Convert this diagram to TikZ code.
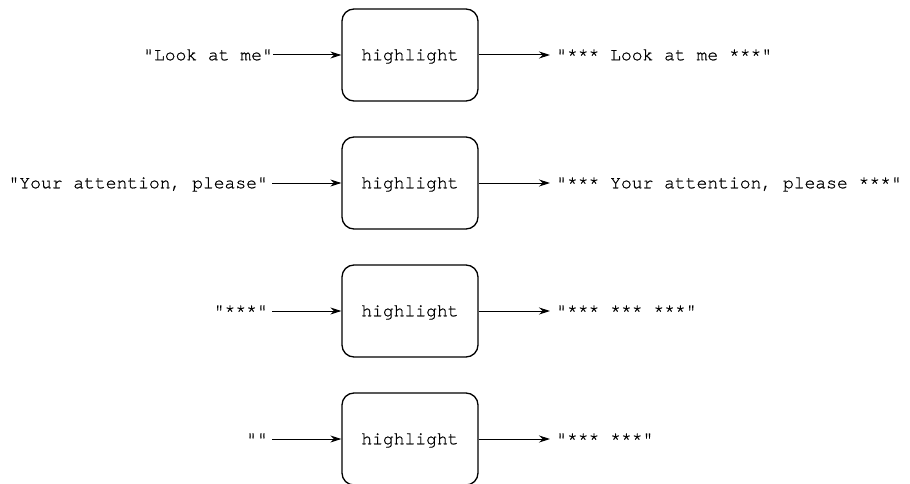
\documentclass[tikz,border=0pt]{standalone}
\usepackage{fontspec}
\setmonofont[FakeBold=0.8]{texgyrecursor-regular.otf}
\usetikzlibrary{arrows.meta}
\tikzset{
  fn/.style={draw, line width=1.3pt, rounded corners=12pt, minimum width=136pt, minimum height=92pt, inner sep=0pt,
    text height=10.5pt, text depth=0pt, font=\fontsize{18}{20}\selectfont\ttfamily},
  lbl/.style={inner sep=0pt, text height=10.5pt, text depth=0pt, font=\fontsize{18}{20}\selectfont\ttfamily},
  arr/.style={line width=1pt, -{Stealth[length=11pt,width=7pt]}}
}
\begin{document}
\begin{tikzpicture}[x=1pt,y=-1pt]
\useasboundingbox (0,0) rectangle (910,484);
% row 1
\node[fn] (b1) at (410,55) {highlight};
\node[lbl, anchor=east] (i1) at (273,55) {"Look at me"};
\node[lbl, anchor=west] (o1) at (556,55) {"*** Look at me ***"};
\draw[arr] (i1.east) -- (b1.west);
\draw[arr, shorten >=6pt] (b1.east) -- (o1.west);
% row 2
\node[fn] (b2) at (410,183) {highlight};
\node[lbl, anchor=east] (i2) at (268,183) {"Your attention, please"};
\node[lbl, anchor=west] (o2) at (556,183) {"*** Your attention, please ***"};
\draw[arr, shorten <=4pt] (i2.east) -- (b2.west);
\draw[arr, shorten >=6pt] (b2.east) -- (o2.west);
% row 3
\node[fn] (b3) at (410,311) {highlight};
\node[lbl, anchor=east] (i3) at (268,311) {"***"};
\node[lbl, anchor=west] (o3) at (556,311) {"*** *** ***"};
\draw[arr, shorten <=4pt] (i3.east) -- (b3.west);
\draw[arr, shorten >=6pt] (b3.east) -- (o3.west);
% row 4
\node[fn] (b4) at (410,439) {highlight};
\node[lbl, anchor=east] (i4) at (268,439) {""};
\node[lbl, anchor=west] (o4) at (556,439) {"*** ***"};
\draw[arr, shorten <=4pt] (i4.east) -- (b4.west);
\draw[arr, shorten >=6pt] (b4.east) -- (o4.west);
\end{tikzpicture}
\end{document}
